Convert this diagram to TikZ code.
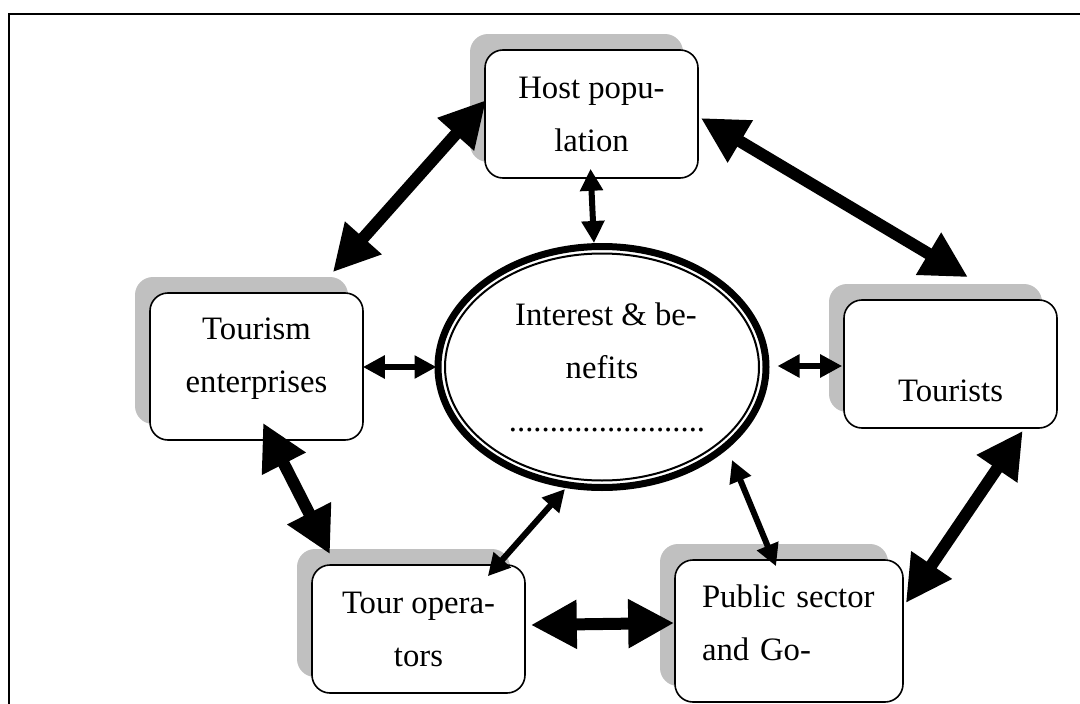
\documentclass[tikz,border=0pt]{standalone}
\usepackage{fontspec}
\setmainfont{Liberation Serif}
\usetikzlibrary{arrows.meta,shapes.geometric,shadows,calc}
\definecolor{shadegray}{RGB}{192,192,192}
\newcommand\diagfont{\fontsize{32.7}{53}\selectfont}
\tikzset{
  box/.style={draw, line width=1.6, rounded corners=18, fill=white,
    minimum width=213, minimum height=128, align=center, inner sep=0,
    font=\diagfont,
    copy shadow={shadow xshift=-15pt, shadow yshift=16pt, draw=none, fill=shadegray}},
  bigarrow/.style={line width=12, >={Triangle[length=46pt,width=46pt]}, <->},
  smallarrow/.style={line width=6, >={Triangle[length=22pt,width=22pt]}, <->},
}
\begin{document}
\begin{tikzpicture}[x=1pt, y=-1pt]
\useasboundingbox (0,0) rectangle (1080,704);
\clip (0,0) rectangle (1080,704);
\fill[white] (0,0) rectangle (1080,704);
\draw[line width=2] (9,14) rectangle (1100,730);

\node[box] (h) at (591.5,114) {Host popu-\\lation};
\node[box, minimum height=147] (te) at (256.5,366.5) {Tourism\\enterprises\rule[-22pt]{0pt}{22pt}};
\node[box] (tr) at (950.5,364) {\rule{0pt}{22pt}\\Tourists};
\node[box] (to) at (418.5,629) {Tour opera-\\tors};
\node[box, minimum height=142, text width=174, align=left, inner xsep=27] (ps) at (789,631) {Public sector\\and Go-\rule[-17pt]{0pt}{17pt}};

\node[ellipse, draw, line width=7, fill=white, minimum width=328, minimum height=241,
  inner sep=0, align=center, font=\diagfont] (core) at (602,367)
  {\hspace*{8pt}Interest \& be-\\nefits\\\hspace*{10pt}........................};
\draw[line width=2] (core.center) ellipse [x radius=157, y radius=113.5];

\draw[bigarrow] ($(h.west)+(2,-14)$) -- ($(te.north east)+(-31,-20)$);
\draw[bigarrow] ($(h.east)+(2,4)$) -- ($(tr.north)+(17.5,-22)$);
\draw[smallarrow] ($(h.south)+(-1,-10)$) -- ($(core.north)+(-8,0)$);
\draw[smallarrow] ($(te.east)+(-1,0.5)$) -- ($(core.west)+(2,0)$);
\draw[smallarrow] ($(core.east)+(8,-1)$) -- ($(tr.west)+(-1,2)$);
\draw[bigarrow] ($(te.south)+(6.5,-18)$) -- ($(to.north)+(-88.5,-10)$);
\draw[smallarrow] ($(to.north east)+(-38,12)$) -- ($(core.south)+(-37,-2)$);
\draw[smallarrow] ($(core.center)+(130,93)$) -- ($(ps.north)+(-13,7)$);
\draw[bigarrow] ($(tr.south east)+(-35,2)$) -- ($(ps.east)+(2,-28)$);
\draw[bigarrow] ($(to.east)+(5,-4)$) -- ($(ps.west)+(0,-8)$);
\end{tikzpicture}
\end{document}
